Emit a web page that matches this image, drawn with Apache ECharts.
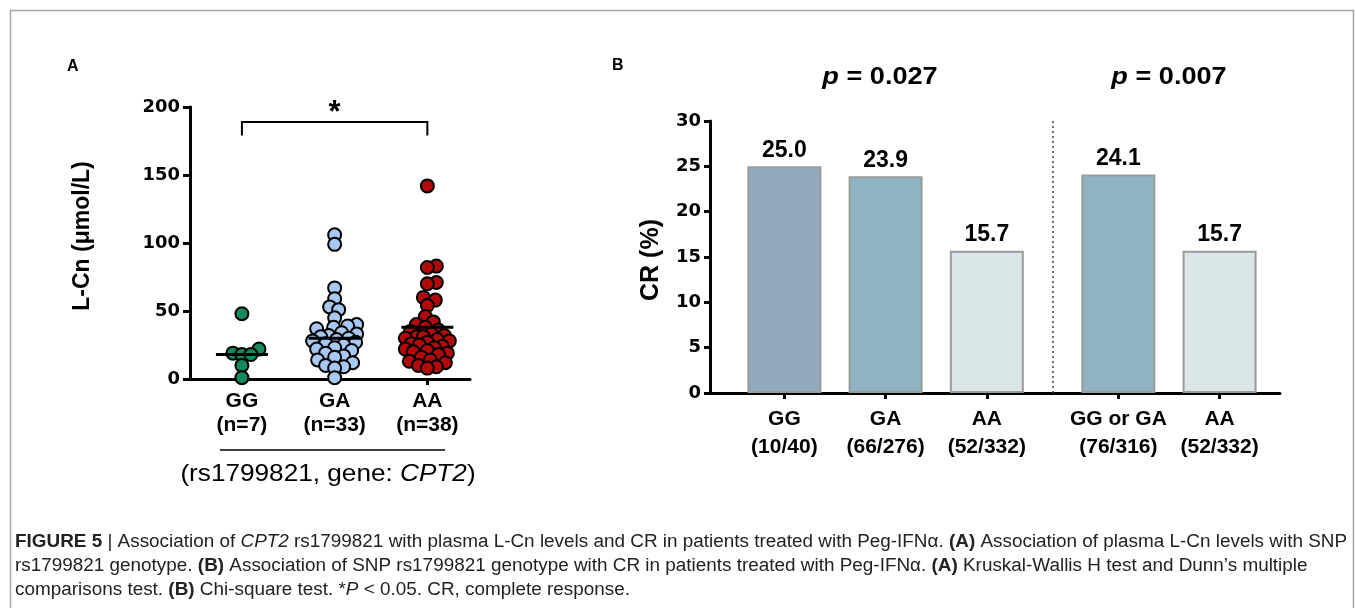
<!DOCTYPE html>
<html>
<head>
<meta charset="utf-8">
<script src="https://cdn.jsdelivr.net/npm/echarts@6/dist/echarts.min.js"></script>
<style>
html,body{margin:0;padding:0;background:#fff;}
#chart{width:1355px;height:608px;}
</style>
</head>
<body>
<div id="chart"></div>
<script>
// ---------- Panel A data ----------
const genotypesA = ['GG', 'GA', 'AA'];
const groupSizesA = ['n=7', 'n=33', 'n=38'];
const ggValues = [48, 22, 19, 18, 18, 10, 1];
const gaValues = [106, 99, 67, 59, 53, 51, 45, 40, 39, 38, 37, 34, 33, 32, 31, 30, 29, 28, 27, 26, 25, 23, 22, 21, 19, 17, 16, 14, 12, 10, 9, 8, 1];
const aaValues = [142, 83, 82, 71, 70, 60, 58, 54, 46, 42, 40, 38, 36, 35, 33, 32, 31, 31, 30, 29, 28, 27, 26, 25, 24, 23, 22, 21, 20, 19, 18, 16, 14, 13, 12, 10, 9, 8];
const centerLinesA = [18, 30, 38];
const yTicksA = [0, 50, 100, 150, 200];
const bracketA = { from: 0, to: 2, top: 189, leg: 10, mark: '*' };

// ---------- Panel B data ----------
const genotypesB = ['GG', 'GA', 'AA', 'GG or GA', 'AA'];
const countsB = ['10/40', '66/276', '52/332', '76/316', '52/332'];
const crValues = [25.0, 23.9, 15.7, 24.1, 15.7];
const pValues = ['0.027', '0.007'];
const yTicksB = [0, 5, 10, 15, 20, 25, 30];

// ---------- layout / styles ----------
const FONT = 'Liberation Sans, Arial, sans-serif';
const WIDE = 'DejaVu Sans, Liberation Sans, sans-serif';
const gridA = { left: 190, top: 107, width: 280, height: 272 };
const gridB = { left: 710, top: 121, width: 570, height: 272 };
const xMinA = -0.56, xMaxA = 2.46;
const xMinB = -0.735, xMaxB = 4.897;
const groupGapB = 0.3;           // extra space between the two comparisons
const posB = genotypesB.map((g, i) => i + (i >= 3 ? groupGapB : 0));
const dividerB = (posB[2] + posB[3]) / 2;
const dotColors = ['#168a5a', '#a7c8f2', '#b00a0a'];
const barColors = ['#91aabd', '#8eb3c3', '#dbe6e8', '#8eb3c3', '#dbe6e8'];

// deterministic beeswarm layout (pixel space) -> x offsets in data units
function swarm(values, center) {
  const pxX = gridA.width / (xMaxA - xMinA);
  const pxY = gridA.height / 200;
  const minDist = 9, maxOff = 22;
  const order = values.map((v, i) => i).sort((a, b) => values[a] - values[b]);
  const placed = [];
  const out = new Array(values.length);
  order.forEach(idx => {
    const y = values[idx] * pxY;
    let best = 0, bestScore = -1, chosen = null;
    for (let k = 0; k <= maxOff * 2; k++) {
      const off = (k % 2 === 1 ? 1 : -1) * Math.ceil(k / 2);
      let md = Infinity;
      placed.forEach(p => { md = Math.min(md, Math.hypot(p[0] - off, p[1] - y)); });
      if (md >= minDist) { chosen = off; break; }
      if (md > bestScore) { bestScore = md; best = off; }
    }
    const off = chosen === null ? best : chosen;
    placed.push([off, y]);
    out[idx] = [center + off / pxX, values[idx]];
  });
  return out;
}

const groupsA = [ggValues, gaValues, aaValues];

const scatterSeries = groupsA.map((vals, gi) => ({
  type: 'scatter',
  xAxisIndex: 0, yAxisIndex: 0,
  data: swarm(vals, gi),
  symbolSize: 13,
  itemStyle: { color: dotColors[gi], borderColor: '#000', borderWidth: 2, opacity: 1 },
  z: 3,
  silent: true
}));

const centerLineSeries = {
  type: 'custom',
  xAxisIndex: 0, yAxisIndex: 0,
  data: centerLinesA.map((v, i) => [i, v]),
  renderItem: (params, api) => {
    const p = api.coord([api.value(0), api.value(1)]);
    return { type: 'line', shape: { x1: p[0] - 26, y1: p[1], x2: p[0] + 26, y2: p[1] },
      style: { stroke: '#000', lineWidth: 3 } };
  },
  z: 5, silent: true
};

const bracketSeries = {
  type: 'custom',
  xAxisIndex: 0, yAxisIndex: 0,
  data: [[bracketA.from, bracketA.to, bracketA.top, bracketA.leg]],
  renderItem: (params, api) => {
    const a = api.coord([api.value(0), api.value(2)]);
    const b = api.coord([api.value(1), api.value(2)]);
    const leg = api.coord([api.value(0), api.value(2) - api.value(3)]);
    return { type: 'group', children: [
      { type: 'polyline', shape: { points: [[a[0], leg[1]], a, b, [b[0], leg[1]]] },
        style: { stroke: '#000', lineWidth: 2, fill: null } },
      { type: 'text', style: { x: (a[0] + b[0]) / 2, y: a[1] + 7, text: bracketA.mark,
        font: 'bold 31px ' + FONT, fill: '#000', align: 'center', verticalAlign: 'bottom' } }
    ]};
  },
  silent: true
};

const barSeries = {
  type: 'bar',
  xAxisIndex: 1, yAxisIndex: 1,
  barWidth: 74,
  data: crValues.map((v, i) => ({ value: [posB[i], v], itemStyle: { color: barColors[i] } })),
  itemStyle: { borderColor: '#9a9a9a', borderWidth: 2 },
  label: { show: true, position: 'top', distance: 4, formatter: p => p.value[1].toFixed(1),
    fontFamily: FONT, fontWeight: 'bold', fontSize: 23, color: '#000' },
  markLine: {
    silent: true, symbol: 'none', label: { show: false },
    lineStyle: { type: [2, 3], color: '#444', width: 1.5 },
    data: [{ xAxis: dividerB }]
  },
  silent: true
};

const capRich = {
  b: { fontFamily: FONT, fontWeight: 'bold', fontSize: 18, color: '#222' },
  i: { fontFamily: FONT, fontStyle: 'italic', fontSize: 18, color: '#222' },
  g: { fontFamily: FONT, fontSize: 18, color: '#999' }
};
const caption = (text, y) => ({
  type: 'text', x: 15, y: y, scaleX: 1.05, silent: true,
  style: { x: 0, y: 0, text, font: '18px ' + FONT, fill: '#222', verticalAlign: 'middle', rich: capRich }
});
const centeredText = (text, x, y, font, rich, rotation, scaleX) => ({
  type: 'text', x, y, rotation: rotation || 0, scaleX: scaleX || 1, silent: true,
  style: { x: 0, y: 0, text, font, fill: '#000', align: 'center', verticalAlign: 'middle', rich }
});

const option = {
  animation: false,
  backgroundColor: '#fff',
  grid: [
    Object.assign({ containLabel: false }, gridA),
    Object.assign({ containLabel: false }, gridB)
  ],
  xAxis: [
    {
      type: 'value', gridIndex: 0, min: xMinA, max: xMaxA,
      splitLine: { show: false },
      axisLine: { show: true, onZero: false, lineStyle: { color: '#000', width: 3 } },
      axisTick: { show: true, customValues: [0, 1, 2], length: 6, lineStyle: { color: '#000', width: 3 } },
      axisLabel: {
        customValues: [0, 1, 2], margin: 10, lineHeight: 24,
        formatter: v => genotypesA[Math.round(v)] + '\n(' + groupSizesA[Math.round(v)] + ')',
        fontFamily: FONT, fontWeight: 'bold', fontSize: 21, color: '#000'
      }
    },
    {
      type: 'value', gridIndex: 1, min: xMinB, max: xMaxB,
      splitLine: { show: false },
      axisLine: { show: true, onZero: false, lineStyle: { color: '#000', width: 3 } },
      axisTick: { show: true, customValues: posB, length: 6, lineStyle: { color: '#000', width: 3 } },
      axisLabel: {
        customValues: posB, margin: 12, lineHeight: 28,
        formatter: v => { const i = posB.findIndex(p => Math.abs(p - v) < 1e-6); return genotypesB[i] + '\n(' + countsB[i] + ')'; },
        fontFamily: FONT, fontWeight: 'bold', fontSize: 21, color: '#000'
      }
    }
  ],
  yAxis: [
    {
      type: 'value', gridIndex: 0, min: yTicksA[0], max: yTicksA[yTicksA.length - 1], interval: 50,
      splitLine: { show: false },
      axisLine: { show: true, onZero: false, lineStyle: { color: '#000', width: 3 } },
      axisTick: { show: true, length: 7, lineStyle: { color: '#000', width: 3 } },
      axisLabel: { margin: 10, fontFamily: WIDE, fontWeight: 'bold', fontSize: 18, color: '#000' }
    },
    {
      type: 'value', gridIndex: 1, min: yTicksB[0], max: yTicksB[yTicksB.length - 1], interval: 5,
      splitLine: { show: false },
      axisLine: { show: true, onZero: false, lineStyle: { color: '#000', width: 3 } },
      axisTick: { show: true, length: 6, lineStyle: { color: '#000', width: 3 } },
      axisLabel: { margin: 9, fontFamily: WIDE, fontWeight: 'bold', fontSize: 18, color: '#000' }
    }
  ],
  series: [centerLineSeries].concat(scatterSeries, [bracketSeries, barSeries]),
  graphic: [
    { type: 'rect', shape: { x: 10.5, y: 10.5, width: 1343, height: 700 },
      style: { fill: null, stroke: '#a6a6a6', lineWidth: 1.5 }, silent: true },
    { type: 'text', left: 67, top: 59, style: { text: 'A', font: 'bold 16px ' + FONT, fill: '#000' } },
    { type: 'text', left: 612, top: 58, style: { text: 'B', font: 'bold 16px ' + FONT, fill: '#000' } },
    // axis titles
    centeredText('L-Cn (μmol/L)', 83, 236, 'bold 23px ' + FONT, null, Math.PI / 2),
    centeredText('CR (%)', 651, 260, 'bold 25px ' + FONT, null, Math.PI / 2),
    // panel A footer
    { type: 'line', shape: { x1: 220, y1: 450, x2: 445, y2: 450 }, style: { stroke: '#000', lineWidth: 1.5 }, silent: true },
    centeredText('(rs1799821, gene: {i|CPT2})', 328, 474, '24px ' + FONT,
      { i: { fontFamily: FONT, fontStyle: 'italic', fontSize: 24, color: '#000' } }, 0, 1.09),
    // p values
    centeredText('{i|p} = ' + pValues[0], 880, 78, 'bold 23px ' + FONT,
      { i: { fontFamily: FONT, fontStyle: 'italic', fontWeight: 'bold', fontSize: 23, color: '#000' } }, 0, 1.18),
    centeredText('{i|p} = ' + pValues[1], 1169, 78, 'bold 23px ' + FONT,
      { i: { fontFamily: FONT, fontStyle: 'italic', fontWeight: 'bold', fontSize: 23, color: '#000' } }, 0, 1.18),
    // caption
    caption('{b|FIGURE 5} {g||} Association of {i|CPT2} rs1799821 with plasma L-Cn levels and CR in patients treated with Peg-IFNα. {b|(A)} Association of plasma L-Cn levels with SNP', 542),
    caption('rs1799821 genotype. {b|(B)} Association of SNP rs1799821 genotype with CR in patients treated with Peg-IFNα. {b|(A)} Kruskal-Wallis H test and Dunn’s multiple', 566),
    caption('comparisons test. {b|(B)} Chi-square test. *{i|P} < 0.05. CR, complete response.', 590)
  ]
};

const chart = echarts.init(document.getElementById('chart'), null, { renderer: 'canvas' });
chart.setOption(option);
</script>
</body>
</html>
